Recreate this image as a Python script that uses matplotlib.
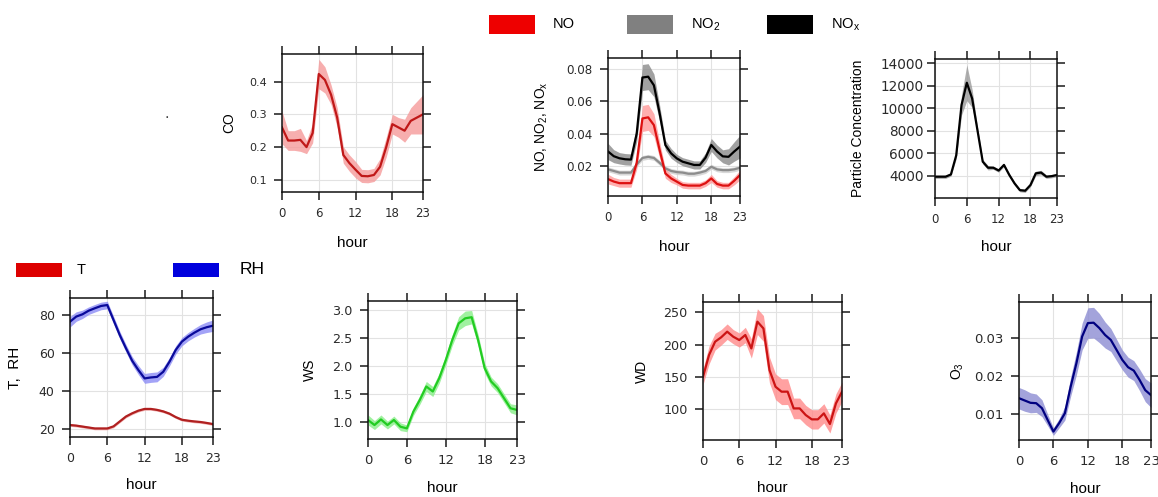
import numpy as np
import matplotlib.pyplot as plt
from matplotlib.patches import Rectangle
from matplotlib.ticker import FormatStrFormatter

plt.rcParams['font.family'] = ['Liberation Sans', 'DejaVu Sans']
plt.rcParams['mathtext.fontset'] = 'custom'
plt.rcParams['mathtext.rm'] = 'Liberation Sans'
plt.rcParams['mathtext.default'] = 'regular'

hours = np.arange(24)
hour_ticks = [0, 6, 12, 18, 23]

# diurnal means and half-widths of the confidence bands
co = [0.26, 0.22, 0.22, 0.222, 0.20, 0.243, 0.423, 0.405, 0.36, 0.29, 0.176, 0.151,
      0.131, 0.112, 0.111, 0.115, 0.14, 0.20, 0.27, 0.26, 0.25, 0.28, 0.29, 0.30]
co_err = [0.05, 0.03, 0.03, 0.035, 0.02, 0.03, 0.045, 0.04, 0.03, 0.03, 0.025, 0.025,
          0.025, 0.02, 0.02, 0.02, 0.025, 0.03, 0.03, 0.03, 0.035, 0.04, 0.05, 0.06]

no = [0.012, 0.0105, 0.0095, 0.0095, 0.0095, 0.022, 0.0493, 0.050, 0.0452, 0.0298, 0.0155, 0.0124,
      0.0104, 0.0084, 0.008, 0.008, 0.008, 0.0095, 0.0124, 0.009, 0.008, 0.008, 0.011, 0.0145]
no_err = [0.003, 0.0025, 0.0025, 0.0025, 0.0025, 0.004, 0.008, 0.008, 0.007, 0.005, 0.003, 0.0025,
          0.002, 0.002, 0.002, 0.002, 0.002, 0.002, 0.0025, 0.002, 0.002, 0.002, 0.0025, 0.003]
no2 = [0.018, 0.017, 0.016, 0.016, 0.016, 0.021, 0.025, 0.0257, 0.025, 0.022, 0.0186, 0.017,
       0.0163, 0.016, 0.0153, 0.0153, 0.016, 0.017, 0.0196, 0.018, 0.0175, 0.0175, 0.018, 0.019]
no2_err = [0.0015] * 24
nox = [0.029, 0.0261, 0.0248, 0.0242, 0.024, 0.040, 0.0745, 0.075, 0.0697, 0.0524, 0.0329, 0.0278,
       0.0247, 0.0227, 0.0217, 0.0207, 0.0207, 0.0252, 0.033, 0.029, 0.026, 0.0257, 0.029, 0.032]
nox_err = [0.005, 0.004, 0.0035, 0.0035, 0.0035, 0.005, 0.008, 0.008, 0.007, 0.005, 0.003, 0.003,
           0.0025, 0.0025, 0.0025, 0.0025, 0.0025, 0.003, 0.004, 0.004, 0.004, 0.005, 0.006, 0.007]

particles = [3900, 3900, 3900, 4100, 5800, 10300, 12280, 10880, 8060, 5240, 4700, 4700,
             4450, 4950, 4060, 3300, 2700, 2650, 3160, 4200, 4270, 3900, 3950, 4050]
particles_err = [150, 150, 150, 150, 300, 900, 1600, 800, 300, 200, 200, 150,
                 150, 150, 150, 150, 150, 150, 150, 200, 200, 150, 150, 150]

temp = [22.1, 21.8, 21.3, 20.8, 20.3, 20.3, 20.3, 21.4, 24.0, 26.6, 28.3, 29.7,
        30.6, 30.6, 30.1, 29.3, 28.1, 26.3, 24.9, 24.4, 24.0, 23.7, 23.2, 22.6]
temp_err = [0.7] * 24
rh = [76.6, 79.3, 80.5, 82.4, 83.7, 84.9, 85.4, 77.5, 69.6, 62.6, 56.0, 51.1,
      46.7, 47.2, 47.5, 50.2, 55.5, 61.7, 66.1, 68.7, 70.8, 72.6, 73.7, 74.5]
rh_err = [2.8, 2.5, 2.2, 2.0, 2.0, 2.0, 2.0, 2.0, 2.0, 2.0, 2.2, 2.4,
          2.6, 2.6, 2.6, 2.4, 2.2, 2.2, 2.2, 2.2, 2.3, 2.5, 2.8, 3.0]

ws = [1.03, 0.94, 1.04, 0.94, 1.03, 0.91, 0.88, 1.18, 1.39, 1.63, 1.54, 1.78,
      2.10, 2.46, 2.76, 2.85, 2.87, 2.46, 1.96, 1.72, 1.60, 1.42, 1.24, 1.21]
ws_err = [0.09, 0.08, 0.08, 0.07, 0.07, 0.07, 0.06, 0.07, 0.08, 0.09, 0.09, 0.09,
          0.09, 0.10, 0.12, 0.13, 0.12, 0.10, 0.09, 0.08, 0.08, 0.08, 0.08, 0.09]

wd = [150, 183.8, 204.4, 211.2, 220, 212.2, 207, 214.8, 194, 235.5, 225, 160.5,
      134.6, 126.9, 127, 101, 101, 90.7, 84, 84, 93.3, 76.8, 108.8, 126.9]
wd_err = [12, 14, 13, 12, 12, 11, 11, 12, 15, 20, 20, 20,
          20, 20, 20, 16, 16, 15, 15, 15, 15, 14, 15, 15]

o3 = [0.0142, 0.0136, 0.0130, 0.0129, 0.0116, 0.0085, 0.0055, 0.0077, 0.0103, 0.0172, 0.0233, 0.0303,
      0.0338, 0.0339, 0.0325, 0.0307, 0.0294, 0.0268, 0.0242, 0.0223, 0.0214, 0.0190, 0.0163, 0.0150]
o3_err = [0.0028, 0.0028, 0.0026, 0.0024, 0.0022, 0.0015, 0.0010, 0.0012, 0.0018, 0.0025, 0.0030, 0.0035,
          0.0040, 0.0040, 0.0038, 0.0034, 0.0030, 0.0028, 0.0026, 0.0026, 0.0026, 0.0028, 0.0030, 0.0032]

W, H = 1158, 497
fig = plt.figure(figsize=(W / 100, H / 100), dpi=100)


def panel(left, right, top, bottom, yticks, ylim, fmt, ylabel, ylab_x, xlab_y,
          xsize=8.5, ysize=8.5, ypad=5):
    ax = fig.add_axes([left / W, 1 - bottom / H, (right - left) / W, (bottom - top) / H])
    ax.set_xlim(0, 23)
    ax.set_ylim(*ylim)
    ax.set_xticks(hour_ticks)
    ax.set_yticks(yticks)
    ax.yaxis.set_major_formatter(FormatStrFormatter(fmt))
    ax.tick_params(direction='out', top=True, right=True, length=6, width=1.1,
                   colors='#1a1a1a')
    ax.tick_params(axis='x', labelsize=xsize, pad=5)
    ax.tick_params(axis='y', labelsize=ysize, pad=ypad)
    for lbl in ax.get_xticklabels() + ax.get_yticklabels():
        lbl.set_family('DejaVu Sans')
        lbl.set_color('#2a2a2a')
    for s in ax.spines.values():
        s.set_linewidth(1.1)
        s.set_color('#111111')
    ax.grid(color='#e2e2e2', lw=0.8)
    ax.set_axisbelow(True)
    ax.set_ylabel(ylabel, fontsize=10, va='center')
    ax.yaxis.set_label_coords((ylab_x - left) / (right - left), 0.5)
    ax.set_xlabel('hour', fontsize=11, va='center')
    ax.xaxis.set_label_coords(0.5, (bottom - xlab_y) / (bottom - top))
    return ax


def band(ax, mean, err, line_color, fill_color, alpha=0.8):
    mean = np.asarray(mean)
    err = np.asarray(err)
    ax.fill_between(hours, mean - err, mean + err, color=fill_color, alpha=alpha, lw=0)
    ax.plot(hours, mean, color=line_color, lw=1.6)


ax = panel(282, 423, 54, 192, [0.1, 0.2, 0.3, 0.4], (0.063, 0.484), '%.1f', 'CO', 229, 243,
           xsize=8.5, ysize=8)
band(ax, co, co_err, '#c01818', '#f59a9a')

ax = panel(608, 740, 58, 196, [0.02, 0.04, 0.06, 0.08], (0.0016, 0.0865), '%.2f',
           'NO, NO$_2$, NO$_x$', 542, 247, xsize=8.5, ysize=8.6)
band(ax, nox, nox_err, '#000000', '#8a8a8a')
band(ax, no2, no2_err, '#8c8c8c', '#cfcfcf')
band(ax, no, no_err, '#dd1111', '#ff9a9a')

ax = panel(935, 1057, 59, 198, [4000, 6000, 8000, 10000, 12000, 14000], (2000, 14400), '%d',
           'Particle Concentration', 858, 247, xsize=8.5, ysize=9.8, ypad=2)
band(ax, particles, particles_err, '#000000', '#9a9a9a')

ax = panel(70, 213, 298, 437, [20, 40, 60, 80], (15.8, 89.1), '%d', 'T,  RH', 15, 485,
           xsize=9, ysize=9)
ax.yaxis.label.set_fontsize(11)
band(ax, rh, rh_err, '#0a0a9a', '#8c8cf5')
band(ax, temp, temp_err, '#b02020', '#f0a0a0')

ax = panel(368, 517, 301, 439, [1.0, 1.5, 2.0, 2.5, 3.0], (0.69, 3.16), '%.1f', 'WS', 310, 488,
           xsize=9.5, ysize=9.2)
band(ax, ws, ws_err, '#22cc22', '#88ee88')

ax = panel(703, 842, 302, 440, [100, 150, 200, 250], (52, 266), '%d', 'WD', 642, 488,
           xsize=9.5, ysize=9.2)
band(ax, wd, wd_err, '#cc1414', '#ff8a8a')

ax = panel(1019, 1151, 302, 440, [0.01, 0.02, 0.03], (0.0033, 0.0393), '%.2f', 'O$_3$', 958, 489,
           xsize=9.5, ysize=9.5)
band(ax, o3, o3_err, '#000080', '#8c8cd2')


def key(x0, y0, w, h, color, label, tx, size):
    fig.add_artist(Rectangle((x0 / W, 1 - (y0 + h) / H), w / W, h / H,
                             transform=fig.transFigure, color=color, lw=0))
    fig.text(tx / W, 1 - (y0 + h / 2) / H, label, fontsize=size, va='center', ha='left')


# NO / NO2 / NOx key
key(489, 15, 46, 19, '#ee0000', 'NO', 553, 10.5)
key(627, 15, 46, 19, '#808080', 'NO$_2$', 691, 10.5)
key(767, 15, 46, 19, '#000000', 'NO$_x$', 831, 10.5)

# T / RH key
key(16, 263, 46, 14, '#dd0000', 'T', 77, 10.5)
key(173, 263, 46, 14, '#0000dd', 'RH', 240, 12.5)

fig.text(167 / W, 1 - 118 / H, '.', fontsize=12, color='#444444', ha='center', va='baseline')

fig.savefig('out.png', dpi=100)
